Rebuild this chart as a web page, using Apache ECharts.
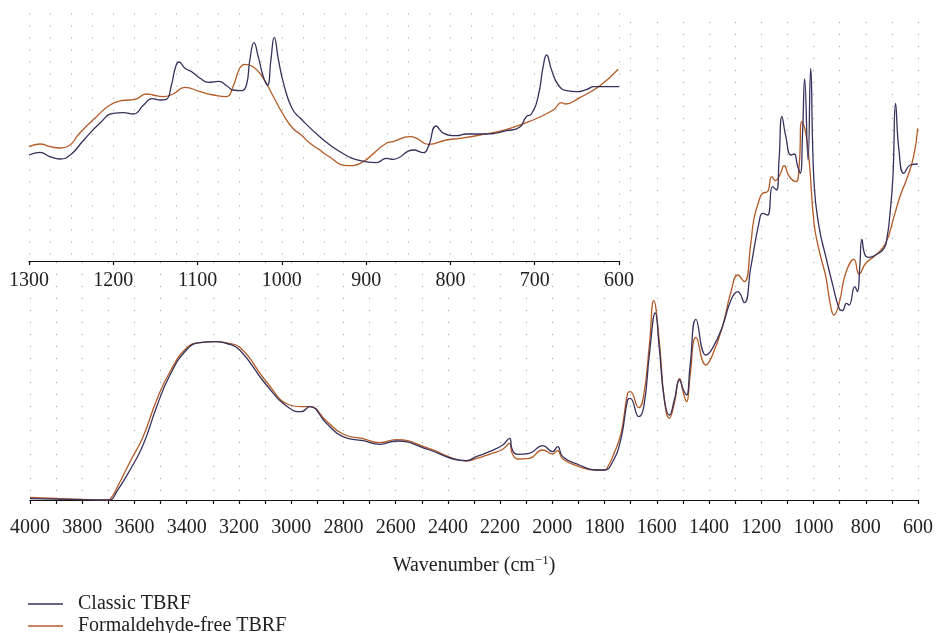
<!DOCTYPE html>
<html><head><meta charset="utf-8">
<script src="https://cdn.jsdelivr.net/npm/echarts@6/dist/echarts.min.js"></script>
<style>html,body{margin:0;padding:0;background:#fff}#c{width:936px;height:633px}</style>
</head><body><div id="c"></div>
<script>
// ---- Main spectrum (4000-600 cm-1), transmittance in arbitrary units ----
const mainClassicWn = [4000,3900,3800,3700,3694,3668,3617,3567,3515,3464,3401,3350,3286,3248,3197,3095,3006,2961,2929,2865,2802,2725,2661,2598,2470,2380,2329,2292,2241,2190,2164,2154,2133,2088,2037,1999,1980,1960,1897,1833,1801,1769,1737,1712,1702,1669,1650,1628,1606,1591,1571,1552,1533,1513,1498,1486,1473,1450,1412,1387,1349,1316,1290,1265,1240,1208,1195,1176,1157,1142,1132,1121,1106,1087,1074,1062,1051,1042,1034,1021,1011,998,979,953,928,902,889,874,864,842,832,823,815,803,788,762,730,718,709,696,686,673,654,629,601];
const mainClassicT = [1.3,0.8,0.3,0,0,8.3,30,55,93.3,125,150,157.3,158.3,156.7,150,115,91.7,88.3,93.3,76.7,63.3,59.3,55.7,59,50,41,39.3,43.3,48.3,55,61.7,50.7,45.7,46.7,54.3,48.3,53.3,43.3,35,30,30,38.3,61.7,100,101.7,83.3,93.3,146.7,187,153.3,100,85,100,120,110,105,133.3,180.7,145,151.7,173.3,200,208.3,197.3,233,278.3,286.7,285,313.3,310,340,383.3,363.3,345,346,335,326.7,366.7,421,340,431.7,316.7,273.3,243.3,216.7,191.7,189.3,196.7,195,213.3,208.3,233.3,260.7,245,242.7,245,251.7,263.3,281.7,323.3,396.7,350,326.7,335,336];
const mainFreeWn = [4000,3900,3800,3700,3694,3668,3617,3567,3515,3464,3401,3350,3286,3248,3197,3095,3006,2961,2929,2865,2802,2725,2661,2598,2470,2380,2329,2292,2241,2190,2164,2154,2133,2088,2037,1999,1980,1960,1897,1833,1801,1782,1769,1737,1712,1702,1669,1650,1628,1612,1591,1571,1552,1533,1513,1498,1486,1473,1450,1412,1387,1349,1316,1290,1265,1240,1229,1208,1195,1176,1160,1145,1129,1112,1094,1068,1055,1045,1032,1017,998,979,953,934,922,902,877,845,826,800,762,724,692,667,642,617,601];
const mainFreeT = [2.7,1.5,0.5,0,0.5,11.7,38.3,63.3,100,128.3,151.7,157.3,158.3,157,152.7,118.3,95,93.3,93.3,79,66,61.3,57.3,60.3,51.3,41.7,39,41.3,45.7,50.7,56.7,46.7,41,41.7,50,46,49.3,41,33.3,30,30,36,43.3,66.7,106.7,108.3,92.3,105,156.7,199.3,160,100,81.7,96.7,121.7,106.7,98.3,123.3,162.7,135,145,173.3,208.3,225,218.3,256.7,280,300,306.7,308.3,323.3,319.3,325,334.3,324,318.3,335,378.3,370,340,276.7,250,223.3,193.3,185,196.7,226.7,240.7,226,236.7,245,256.7,283.3,305,321.7,343.3,371.7];

// ---- Inset (1300-600 cm-1) ----
const insetClassicWn = [1300,1287,1275,1263,1251,1235,1216,1200,1188,1176,1164,1154,1144,1137,1131,1126,1122,1115,1107,1097,1087,1075,1065,1058,1048,1042,1038,1033,1028,1022,1017,1013,1009,1004,998,988,978,955,931,907,888,876,868,844,832,826,817,808,793,781,757,733,718,710,704,696,690,686,680,672,662,650,638,630,615,600];
const insetClassicT = [106,108.7,104.3,102,106,121,137.7,147.7,148.3,147,156,162.3,161,161.7,176,194.3,199,192.7,189.3,182.7,178.7,179.7,175,171,170.3,176,201,218.3,204.3,184.3,176,201,223.7,201,177.7,152.7,142.7,124.3,109.3,100.3,98.3,102.7,101.7,111,108.3,115,135,127.7,125.3,127,127,130.3,133.7,144.3,147,164.3,194.3,206,191,176,170.3,169.3,171.7,174.3,174.3,174.3];
const insetFreeWn = [1300,1287,1275,1263,1253,1240,1220,1204,1190,1174,1161,1153,1141,1129,1115,1097,1081,1066,1058,1050,1044,1034,1022,1010,998,987,977,967,955,947,921,907,876,868,848,840,826,805,789,765,733,702,678,668,664,646,623,601];
const insetFreeT = [114.3,117,114.3,113,115,127.7,144.3,156,160.3,161.7,167,166,164.3,167,173.7,169.3,166,164.3,174.3,192.7,196.7,194.3,182.7,164.3,146,132.7,126,118,111,106,95.3,97.7,117.7,119.3,124.3,122.7,116.7,121,122.7,126,131.7,141,151,158.3,157,163.7,175,191.7];

const seriesNames = ['Classic TBRF', 'Formaldehyde-free TBRF'];
const colors = ['#37315c', '#b45a26'];

function pairs(xs, ys) { return xs.map((x, i) => [x, ys[i]]); }

const serif = "'Liberation Serif', 'DejaVu Serif', serif";
const dotLine = { show: true, lineStyle: { color: '#a0a0a0', width: 1, type: [1, 11] } };
const axisLineStyle = { lineStyle: { color: '#111', width: 1.2 } };
const tickStyle = { show: true, length: 4, inside: false, lineStyle: { color: '#111', width: 1.2 } };

function lineSeries(name, color, xi, yi, data, z) {
  return { name, type: 'line', xAxisIndex: xi, yAxisIndex: yi, symbol: 'none', showSymbol: false,
    smooth: 0.5, lineStyle: { color, width: 1.3 }, itemStyle: { color }, data, z };
}
function legendRow(name, top) {
  return { orient: 'horizontal', left: 28, top, padding: 0, itemWidth: 35, itemHeight: 1.5,
    icon: 'rect', data: [name],
    textStyle: { fontFamily: serif, fontSize: 20, lineHeight: 22, color: '#222', padding: [0, 0, 0, 10] } };
}

const chart = echarts.init(document.getElementById('c'));
chart.setOption({
  animation: false,
  backgroundColor: '#fff',
  grid: [
    { left: 30, right: 17, top: 22, bottom: 133, show: false, z: 0 },
    { left: 29, right: 317, top: 13.5, bottom: 372, show: true, backgroundColor: '#fff', borderWidth: 0, z: 5 }
  ],
  xAxis: [
    {
      gridIndex: 0, type: 'value', min: 600, max: 4000, inverse: true, interval: 100,
      axisLine: axisLineStyle, axisTick: tickStyle,
      axisLabel: { margin: 18, fontFamily: serif, fontSize: 20, color: '#222',
        formatter: v => (v % 200 === 0 ? String(v) : '') },
      splitLine: dotLine,
      name: '{a|Wavenumber (cm}{s|−1}{a|)}', nameLocation: 'middle', nameGap: 54,
      nameTextStyle: { rich: {
        a: { fontFamily: serif, fontSize: 20, color: '#222', lineHeight: 24 },
        s: { fontFamily: serif, fontSize: 13, color: '#222', verticalAlign: 'top', lineHeight: 14 }
      } }
    },
    {
      gridIndex: 1, type: 'value', min: 600, max: 1300, inverse: true, interval: 100, z: 6,
      axisLine: axisLineStyle, axisTick: tickStyle,
      axisLabel: { margin: 10, fontFamily: serif, fontSize: 20, color: '#222', formatter: v => String(v) },
      splitLine: { show: false }
    },
    {
      gridIndex: 1, type: 'value', min: 600, max: 1300, inverse: true, interval: 25, z: 6,
      position: 'bottom',
      axisLine: { show: false }, axisTick: { show: false }, axisLabel: { show: false },
      splitLine: dotLine
    }
  ],
  yAxis: [
    { gridIndex: 0, type: 'value', min: 0, max: 478, show: false },
    { gridIndex: 1, type: 'value', min: 0, max: 247.5, show: false }
  ],
  legend: [legendRow(seriesNames[0], 593), legendRow(seriesNames[1], 615)],
  series: [
    lineSeries(seriesNames[0], colors[0], 0, 0, pairs(mainClassicWn, mainClassicT), 3),
    lineSeries(seriesNames[1], colors[1], 0, 0, pairs(mainFreeWn, mainFreeT), 2),
    lineSeries(seriesNames[0], colors[0], 1, 1, pairs(insetClassicWn, insetClassicT), 8),
    lineSeries(seriesNames[1], colors[1], 1, 1, pairs(insetFreeWn, insetFreeT), 7)
  ]
});
</script></body></html>
